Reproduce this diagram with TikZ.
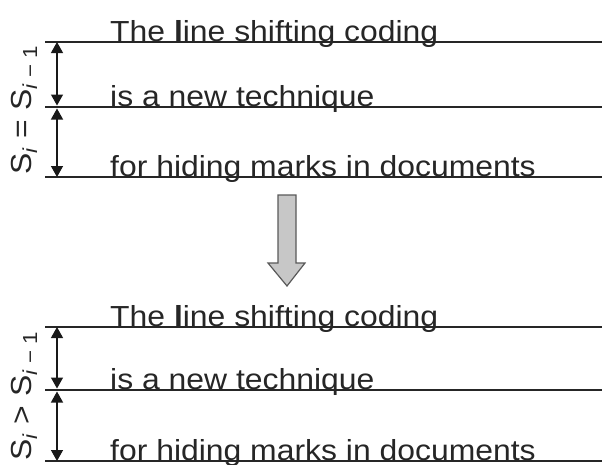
\documentclass[tikz,border=0pt]{standalone}
\usepackage{fontspec}
\setmainfont{Liberation Sans}[FakeStretch=1.1]
\usetikzlibrary{arrows.meta}
\begin{document}
\begin{tikzpicture}[x=1pt,y=-1pt,
  rule/.style={line width=1.4pt, draw=black!85},
  dim/.style={{Triangle[length=11pt,width=12pt]}-{Triangle[length=11pt,width=12pt]}, line width=1.3pt, draw=black!90},
  txt/.style={anchor=base west, inner sep=0pt, font=\fontsize{29}{32}\selectfont, text=black!85},
  lab/.style={rotate=90, inner sep=0pt, font=\fontsize{29}{32}\selectfont, text=black!85},
  bigarrow/.style={fill=black!22, draw=black!65, line width=1.2pt, line join=miter}]
\useasboundingbox (0,0) rectangle (602,464);
\foreach \n/\y in {a/42,b/107,c/177,d/327,e/390,f/461}{
  \coordinate (\n L) at (45,\y);
  \coordinate (\n R) at (602,\y);
  \coordinate (\n A) at (57,\y);
}
\foreach \n in {a,b,c,d,e,f}{\draw[rule] (\n L) -- (\n R);}
\node[txt] (t1) at (110,41) {The \textbf{l}ine shifting coding};
\node[txt] (t2) at (110,106) {is a new technique};
\node[txt] (t3) at (110,176) {for hiding marks in documents};
\node[txt] (t4) at (110,326) {The \textbf{l}ine shifting coding};
\node[txt] (t5) at (110,389) {is a new technique};
\node[txt] (t6) at (110,460) {for hiding marks in documents};
\draw[dim, shorten >=1.5pt] (aA) -- (bA);
\draw[dim, shorten <=1.5pt] (bA) -- (cA);
\draw[dim, shorten >=1.5pt] (dA) -- (eA);
\draw[dim, shorten <=1.5pt] (eA) -- (fA);
\node[lab] (l1) at (24,110) {S\textsubscript{\textit{i}} = S\textsubscript{\textit{i} − 1}};
\node[lab] (l2) at (24,396) {S\textsubscript{\textit{i}} > S\textsubscript{\textit{i} − 1}};
\draw[bigarrow] (278,195) -- (296,195) -- (296,263) -- (305,263) -- (287,286) -- (268,263) -- (278,263) -- cycle;
\end{tikzpicture}
\end{document}
